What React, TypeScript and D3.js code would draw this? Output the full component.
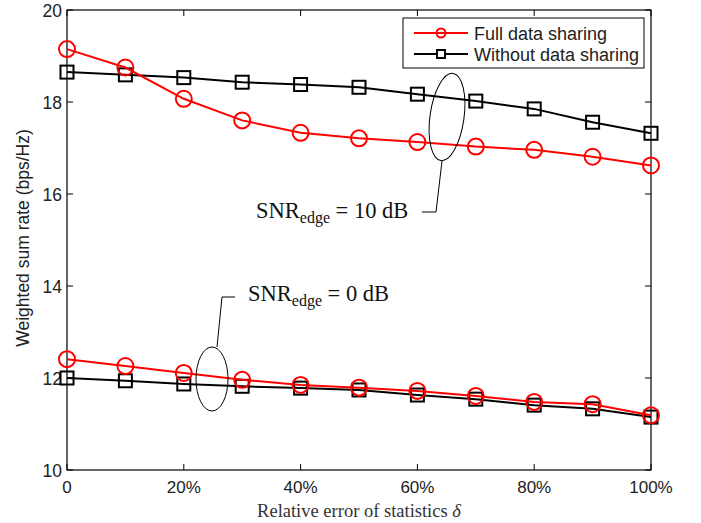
import React from "react";
import * as d3 from "d3";

const deltas = [0, 0.1, 0.2, 0.3, 0.4, 0.5, 0.6, 0.7, 0.8, 0.9, 1.0];
const fullHigh = [19.15, 18.75, 18.07, 17.6, 17.33, 17.21, 17.13, 17.03, 16.96, 16.81, 16.62];
const withoutHigh = [18.65, 18.59, 18.53, 18.43, 18.38, 18.32, 18.17, 18.02, 17.85, 17.56, 17.32];
const fullLow = [12.41, 12.26, 12.11, 11.96, 11.85, 11.79, 11.72, 11.61, 11.48, 11.43, 11.19];
const withoutLow = [12.0, 11.94, 11.87, 11.82, 11.78, 11.74, 11.63, 11.54, 11.41, 11.33, 11.15];
const xTicks = [0, 0.2, 0.4, 0.6, 0.8, 1.0];
const xTickLabels = ["0", "20%", "40%", "60%", "80%", "100%"];
const yTicks = [10, 12, 14, 16, 18, 20];
const legendLabels = ["Full data sharing", "Without data sharing"];

const W = 701, H = 523;
const L = 67, R = 651, T = 10, B = 470;
const sans = "'Liberation Sans', Arial, Helvetica, sans-serif";
const serif = "'Liberation Serif', 'Times New Roman', serif";

export default function App() {
  const x = d3.scaleLinear().domain([0, 1]).range([L, R]);
  const y = d3.scaleLinear().domain([10, 20]).range([B, T]);
  const line = d3.line<number>().x((_, i) => x(deltas[i])).y((v) => y(v));

  const circles = (vals: number[], key: string) =>
    vals.map((v, i) => (
      <circle key={key + i} cx={x(deltas[i])} cy={y(v)} r={8} fill="none" stroke="#ff0000" strokeWidth={2} />
    ));
  const squares = (vals: number[], key: string) =>
    vals.map((v, i) => (
      <rect key={key + i} x={x(deltas[i]) - 6.5} y={y(v) - 6.5} width={13} height={13} fill="none" stroke="#000" strokeWidth={2} />
    ));

  return (
    <svg width={W} height={H} style={{ position: "absolute", left: 0, top: 0, background: "#fff" }}>
      <rect x={0} y={0} width={W} height={H} fill="#fff" />
      <rect x={L} y={T} width={R - L} height={B - T} fill="none" stroke="#000" strokeWidth={1.2} />
      {xTicks.map((t, i) => (
        <g key={"xt" + i}>
          <line x1={x(t)} x2={x(t)} y1={B} y2={B - 6} stroke="#000" />
          <line x1={x(t)} x2={x(t)} y1={T} y2={T + 6} stroke="#000" />
          <text x={x(t)} y={493} fontFamily={sans} fontSize={17} textAnchor="middle" fill="#222">
            {xTickLabels[i]}
          </text>
        </g>
      ))}
      {yTicks.map((t, i) => (
        <g key={"yt" + i}>
          <line x1={L} x2={L + 6} y1={y(t)} y2={y(t)} stroke="#000" />
          <line x1={R} x2={R - 6} y1={y(t)} y2={y(t)} stroke="#000" />
          <text x={62} y={y(t) + 6.5} fontFamily={sans} fontSize={17.5} textAnchor="end" fill="#222">
            {t}
          </text>
        </g>
      ))}
      <text x={359} y={517} fontFamily={serif} fontSize={18.5} textAnchor="middle" fill="#333">
        Relative error of statistics <tspan fontStyle="italic">δ</tspan>
      </text>
      <text transform={`translate(29,238) rotate(-90)`} fontFamily={sans} fontSize={17.5} textAnchor="middle" fill="#222">
        Weighted sum rate (bps/Hz)
      </text>

      <path d={line(withoutHigh) || ""} fill="none" stroke="#000" strokeWidth={2} />
      <path d={line(withoutLow) || ""} fill="none" stroke="#000" strokeWidth={2} />
      {squares(withoutHigh, "sh")}
      {squares(withoutLow, "sl")}
      <path d={line(fullHigh) || ""} fill="none" stroke="#ff0000" strokeWidth={2} />
      <path d={line(fullLow) || ""} fill="none" stroke="#ff0000" strokeWidth={2} />
      {circles(fullHigh, "ch")}
      {circles(fullLow, "cl")}

      <ellipse cx={447} cy={117} rx={17} ry={44} transform="rotate(8,447,117)" fill="none" stroke="#000" strokeWidth={1} />
      <polyline points="442,161 436,212 422,212" fill="none" stroke="#000" strokeWidth={1} />
      <text x={256} y={218} fontFamily={serif} fontSize={22.5} fill="#111">
        SNR<tspan fontSize={16} dy={5}>edge</tspan><tspan dy={-5}> = 10 dB</tspan>
      </text>
      <ellipse cx={212} cy={379} rx={16} ry={32} fill="none" stroke="#000" strokeWidth={1} />
      <polyline points="217,347 222,297 235,297" fill="none" stroke="#000" strokeWidth={1} />
      <text x={248} y={301} fontFamily={serif} fontSize={22.5} fill="#111">
        SNR<tspan fontSize={16} dy={5}>edge</tspan><tspan dy={-5}> = 0 dB</tspan>
      </text>

      <rect x={403} y={18} width={241} height={50} fill="#fff" stroke="#000" strokeWidth={1} />
      <line x1={414} x2={468} y1={33} y2={33} stroke="#ff0000" strokeWidth={2} />
      <circle cx={441} cy={33} r={4.5} fill="none" stroke="#ff0000" strokeWidth={2} />
      <text x={474} y={39.5} fontFamily={sans} fontSize={18} fill="#222">{legendLabels[0]}</text>
      <line x1={414} x2={468} y1={54} y2={54} stroke="#000" strokeWidth={2} />
      <rect x={437} y={50} width={8} height={8} fill="#fff" stroke="#000" strokeWidth={2} />
      <text x={474} y={60.5} fontFamily={sans} fontSize={18} fill="#222">{legendLabels[1]}</text>
    </svg>
  );
}
